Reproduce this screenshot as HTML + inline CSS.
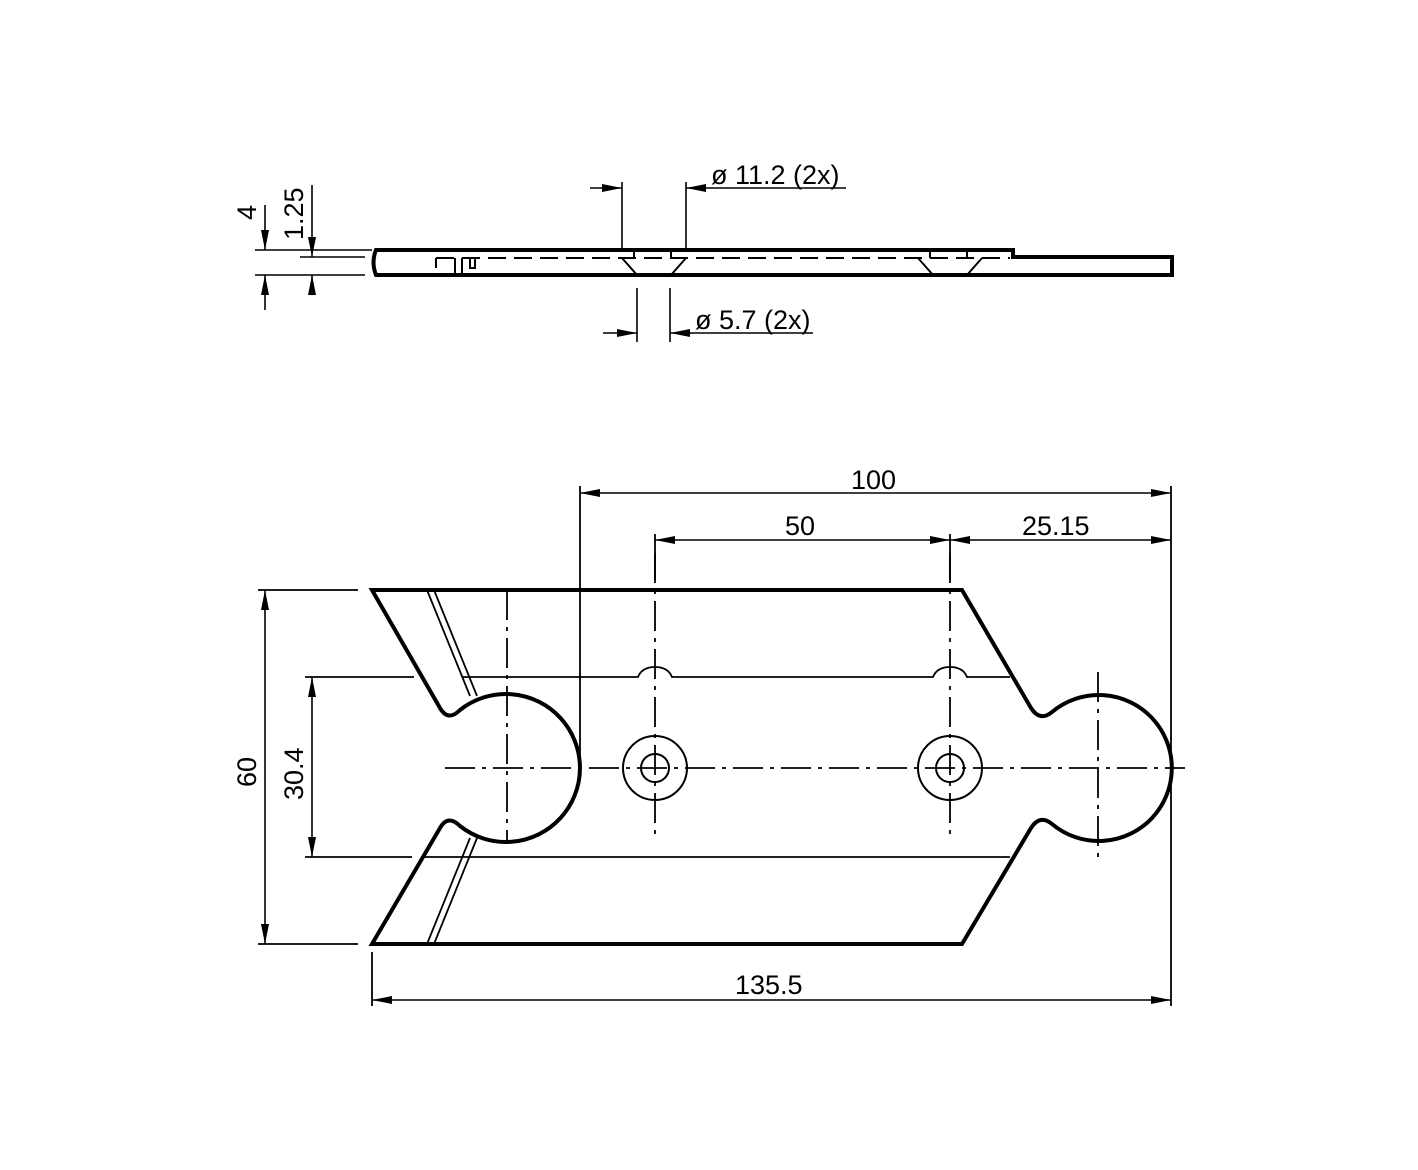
<!DOCTYPE html>
<html><head><meta charset="utf-8"><style>
html,body{margin:0;padding:0;background:#fff;}
svg{display:block;}
text{font-family:"Liberation Sans",sans-serif;font-size:27px;fill:#000;}
</style></head><body>
<svg width="1418" height="1170" viewBox="0 0 1418 1170" xmlns="http://www.w3.org/2000/svg">
<defs>
<marker id="a" viewBox="0 0 20 8" refX="20" refY="4" markerWidth="20" markerHeight="8" markerUnits="userSpaceOnUse" orient="auto-start-reverse"><path d="M0,0 L20,4 L0,8 z" fill="#000"/></marker>
</defs>
<g fill="none" stroke="#000">
<!-- side view -->
<path d="M376,250 L1013,250 L1013,257 L1172,257 L1172,275 L376,275 Q371,262 376,250 z" stroke-width="4"/>
<path d="M436,258 L1010,258" stroke-width="2" stroke-dasharray="18,8"/>
<path d="M436,258 L436,268 M455,258 L455,275 M462,258 L462,275 M470,258 L470,268 L475,268 L475,258" stroke-width="2"/>
<path d="M622,258 L637,275 M686,258 L671,275 M918,258 L933,275 M982,258 L967,275 M634,250 L634,258 M671,250 L671,258 M930,250 L930,258 M967,250 L967,258" stroke-width="2"/>
<path d="M622,182 L622,250 M686,182 L686,250 M637,288 L637,342 M670,288 L670,342" stroke-width="1.6"/>
<path d="M590,188 L622,188" stroke-width="1.6" marker-end="url(#a)"/>
<path d="M846,188 L686,188" stroke-width="1.6" marker-end="url(#a)"/>
<path d="M603,333 L637,333" stroke-width="1.6" marker-end="url(#a)"/>
<path d="M813,333 L670,333" stroke-width="1.6" marker-end="url(#a)"/>
<path d="M255,250 L372,250 M300,257 L365,257 M255,275 L365,275" stroke-width="1.6"/>
<path d="M265,205 L265,250" stroke-width="1.6" marker-end="url(#a)"/>
<path d="M265,310 L265,275" stroke-width="1.6" marker-end="url(#a)"/>
<path d="M312,185 L312,257" stroke-width="1.6" marker-end="url(#a)"/>
<path d="M312,292 L312,275" stroke-width="1.6" marker-end="url(#a)"/>
<!-- plan view outline -->
<path d="M372,590 L962,590 L1031,708 Q1040,722 1052,712 A73,73 0 1 1 1052,824 Q1040,814 1031,828 L962,944 L372,944 L440,828 Q448,814 460,826 A74,74 0 1 0 460,710 Q448,722 440,708 Z" stroke-width="4"/>
<path d="M427,590 L470,696 M434,590 L477,696 M470,838 L427,944 M477,838 L434,944" stroke-width="1.8"/>
<path d="M305,677 L414,677 M462,677 L638,677 Q642,667 655,667 Q668,667 672,677 L933,677 Q937,667 950,667 Q963,667 967,677 L1010,677" stroke-width="1.8"/>
<path d="M305,857 L412,857 M424,857 L1010,857" stroke-width="1.8"/>
<circle cx="655" cy="768" r="32" stroke-width="2"/><circle cx="655" cy="768" r="14" stroke-width="2"/>
<circle cx="950" cy="768" r="32" stroke-width="2"/><circle cx="950" cy="768" r="14" stroke-width="2"/>
<g stroke-width="1.8" stroke-dasharray="30,7,4,7">
<path d="M445,768 L1185,768"/>
<path d="M507,590 L507,842"/>
<path d="M655,553 L655,836"/>
<path d="M950,553 L950,836"/>
<path d="M1098,672 L1098,864"/>
</g>
<path d="M580,486 L580,768 M1171,486 L1171,1006 M372,952 L372,1006 M655,534 L655,580 M950,534 L950,580 M258,590 L358,590 M258,944 L358,944" stroke-width="1.8"/>
<path d="M580,493 L1171,493" stroke-width="1.6" marker-start="url(#a)" marker-end="url(#a)"/>
<path d="M655,540 L950,540" stroke-width="1.6" marker-start="url(#a)" marker-end="url(#a)"/>
<path d="M950,540 L1171,540" stroke-width="1.6" marker-start="url(#a)" marker-end="url(#a)"/>
<path d="M372,1000 L1171,1000" stroke-width="1.6" marker-start="url(#a)" marker-end="url(#a)"/>
<path d="M265,590 L265,944" stroke-width="1.6" marker-start="url(#a)" marker-end="url(#a)"/>
<path d="M312,677 L312,857" stroke-width="1.6" marker-start="url(#a)" marker-end="url(#a)"/>
</g>
<text x="711" y="184">ø 11.2 (2x)</text>
<text x="695" y="329">ø 5.7 (2x)</text>
<text transform="translate(256,220) rotate(-90)">4</text>
<text transform="translate(303,240) rotate(-90)">1.25</text>
<text x="851" y="489">100</text>
<text x="785" y="535">50</text>
<text x="1022" y="535">25.15</text>
<text x="735" y="994">135.5</text>
<text transform="translate(256,787) rotate(-90)">60</text>
<text transform="translate(303,800) rotate(-90)">30.4</text>
</svg>
</body></html>
